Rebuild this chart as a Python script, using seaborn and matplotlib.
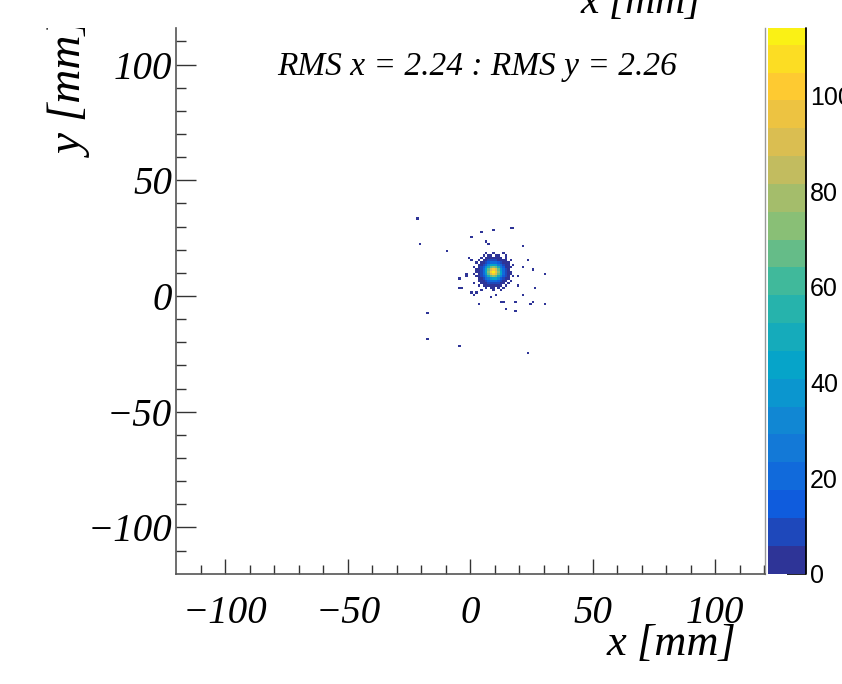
import numpy as np
import matplotlib
matplotlib.use("Agg")
import matplotlib.pyplot as plt
from matplotlib.colors import LinearSegmentedColormap, ListedColormap, BoundaryNorm
from matplotlib.cm import ScalarMappable
from matplotlib.transforms import Bbox, TransformedBbox
import seaborn as sns

# ---------------- data ----------------
# core of the beam spot: counts per 1 mm x 1 mm bin
core_x = np.arange(1, 18) + 0.5          # bin centres, mm (columns)
core_y = np.arange(18, 1, -1) + 0.5      # bin centres, mm (rows, top -> bottom)
core_counts = [
    [0, 0, 0, 0, 0, 1, 0, 0, 1, 0, 0, 0, 1, 0, 0, 0, 0],
    [0, 0, 0, 0, 1, 0, 1, 1, 0, 2, 1, 0, 0, 1, 0, 0, 0],
    [0, 0, 0, 1, 0, 2, 1, 3, 4, 2, 3, 1, 0, 2, 0, 0, 0],
    [0, 0, 1, 0, 2, 3, 7, 9, 8, 10, 5, 4, 2, 1, 0, 1, 0],
    [0, 1, 0, 2, 5, 10, 14, 21, 23, 19, 16, 8, 5, 2, 1, 0, 0],
    [0, 0, 1, 4, 10, 17, 31, 41, 44, 42, 29, 19, 8, 3, 1, 0, 1],
    [1, 0, 2, 6, 14, 31, 50, 66, 75, 68, 47, 29, 16, 5, 2, 1, 0],
    [0, 1, 3, 9, 21, 41, 66, 91, 101, 88, 69, 38, 19, 7, 3, 0, 0],
    [0, 1, 2, 10, 22, 46, 73, 99, 112, 98, 75, 44, 21, 9, 2, 1, 0],
    [1, 0, 4, 8, 19, 39, 68, 89, 99, 92, 65, 42, 20, 8, 3, 1, 0],
    [0, 1, 2, 6, 16, 28, 48, 68, 73, 66, 50, 31, 14, 6, 1, 0, 1],
    [0, 0, 1, 3, 9, 19, 29, 39, 46, 41, 31, 17, 10, 4, 2, 0, 0],
    [0, 0, 1, 2, 4, 8, 16, 19, 21, 21, 14, 10, 4, 1, 0, 1, 0],
    [1, 0, 0, 1, 2, 5, 6, 9, 8, 7, 6, 3, 2, 0, 1, 0, 0],
    [0, 0, 1, 0, 1, 1, 2, 2, 4, 3, 1, 2, 0, 1, 0, 0, 0],
    [0, 0, 0, 0, 0, 1, 0, 1, 1, 0, 1, 0, 1, 0, 0, 0, 0],
    [0, 0, 0, 1, 0, 0, 0, 0, 1, 0, 0, 1, 0, 0, 0, 0, 0],
]

# isolated hits around the spot (mm) and their counts
halo_x = [-21.5, -20.4, -10.0, -17.6, -17.6, -5.0, 23.2, 9.0, 17.4, 16.5, 4.1,
          0.6, 6.1, 7.4, 21.1, 30.5, 30.2, 25.6, 24.4, 21.9, 26.0, 25.1, 23.2,
          3.7, 14.5, 18.3, 18.5, 13.6, 12.8, 10.1, 8.7, 1.2, 0.3, 2.3, -4.7,
          -3.9, -1.5, -1.3, -4.6, 0.0, -0.1, 19.1, 21.5, 19.9]
halo_y = [33.8, 22.3, 19.7, -7.9, -18.4, -21.5, -24.9, 28.5, 29.8, 29.4, 27.3,
          25.1, 23.8, 22.8, 21.9, 9.4, -3.2, -2.7, -3.2, 0.4, 3.2, 11.5, 15.6,
          -3.6, -5.1, -6.2, -2.7, -2.2, -2.2, 0.0, -0.6, 0.0, 1.6, 1.6, 3.6,
          3.2, 8.3, 9.8, 7.3, 15.6, 16.3, 4.3, 12.4, 8.8]
halo_n = [1, 1, 1, 1, 1, 1, 1, 1, 1, 1, 1,
          1, 2, 1, 1, 2, 1, 1, 1, 1, 1, 1, 1,
          1, 1, 1, 1, 2, 1, 1, 1, 1, 1, 1, 1,
          1, 1, 1, 1, 1, 1, 1, 1, 1]

rms_x, rms_y = 2.24, 2.26
x_major = [-100, -50, 0, 50, 100]
y_major = [-100, -50, 0, 50, 100]
z_ticks = [0, 20, 40, 60, 80, 100]

# ---------------- build hit table ----------------
cx, cy = np.meshgrid(core_x, core_y)
cw = np.array(core_counts, dtype=float)
xs = np.concatenate([cx.ravel(), np.array(halo_x)])
ys = np.concatenate([cy.ravel(), np.array(halo_y)])
ws = np.concatenate([cw.ravel(), np.array(halo_n, dtype=float)])
keep = ws > 0
xs, ys, ws = xs[keep], ys[keep], ws[keep]

# ---------------- ROOT kBird palette, 20 contour levels ----------------
bird_r = [0.2082, 0.0592, 0.0780, 0.0232, 0.1802, 0.5301, 0.8186, 0.9956, 0.9764]
bird_g = [0.1664, 0.3599, 0.5041, 0.6419, 0.7178, 0.7492, 0.7328, 0.7862, 0.9832]
bird_b = [0.5293, 0.8684, 0.8385, 0.7914, 0.6425, 0.4662, 0.3499, 0.1968, 0.0539]
bird = LinearSegmentedColormap.from_list(
    "bird", list(zip(np.linspace(0, 1, 9), zip(bird_r, bird_g, bird_b))))
nlev = 20
band = 5.82
zmax = 114.1
levels_cmap = ListedColormap([bird((i + 0.5) / nlev) for i in range(nlev)])

# ---------------- figure ----------------
sns.set_style("white")
plt.rcParams["font.family"] = ["Liberation Serif", "DejaVu Serif"]
plt.rcParams["font.style"] = "italic"
plt.rcParams["axes.unicode_minus"] = True
plt.rcParams["text.color"] = "black"
plt.rcParams["xtick.labelcolor"] = "black"
plt.rcParams["ytick.labelcolor"] = "black"

fig = plt.figure(figsize=(8.42, 6.84), dpi=100)
ax = fig.add_axes([0.2094, 0.1613, 0.6992, 0.7978])

sns.histplot(x=xs, y=ys, weights=ws, binwidth=1,
             binrange=((-120, 120), (-120, 120)),
             cmap=levels_cmap, vmin=0, vmax=nlev * band,
             cbar=False, ax=ax)

ax.set_xlim(-120, 120.3)
ax.set_ylim(-120, 115.8)
ax.set_xlabel("")
ax.set_ylabel("")
ax.grid(False)

ax.set_xticks(x_major)
ax.set_xticks(np.arange(-110, 121, 10), minor=True)
ax.set_yticks(y_major)
ax.set_yticks(np.arange(-110, 116, 10), minor=True)
ax.tick_params(axis="x", which="major", direction="in", length=10.8, width=1,
               color="#333333", labelcolor="black", labelsize=28, pad=15,
               bottom=True, top=False)
ax.tick_params(axis="x", which="minor", direction="in", length=6.3, width=1,
               color="#333333", bottom=True, top=False)
ax.tick_params(axis="y", which="major", direction="in", length=14.4, width=1,
               color="#333333", labelcolor="black", labelsize=28, pad=3,
               left=True, right=False)
ax.tick_params(axis="y", which="minor", direction="in", length=7, width=1,
               color="#333333", left=True, right=False)

for s in ("left", "bottom"):
    ax.spines[s].set_color("#555555")
    ax.spines[s].set_linewidth(1.2)
ax.spines["top"].set_visible(False)
ax.spines["right"].set_color("#999999")
ax.spines["right"].set_linewidth(1.0)

# colour bar
cax = fig.add_axes([0.9121, 0.1613, 0.0451, 0.7978])
bounds = list(np.arange(nlev) * band) + [zmax]
norm = BoundaryNorm(bounds, nlev)
cb = fig.colorbar(ScalarMappable(norm=norm, cmap=levels_cmap), cax=cax,
                  spacing="proportional", ticks=z_ticks)
cb.outline.set_visible(False)
cax.minorticks_off()
cb.set_ticks(z_ticks)
cb.set_ticklabels([str(v) for v in z_ticks])
cax.tick_params(direction="in", length=13.7, width=1.2, color="black",
                labelcolor="black", labelsize=18, pad=3, right=True, left=False)
for t in cax.get_yticklabels():
    t.set_fontfamily("Liberation Sans")
    t.set_fontstyle("normal")
cax.plot([1, 1], [0, 1], transform=cax.transAxes, color="black", lw=1.3,
         clip_on=False)

# texts
fig.text(0.5662, 0.8904, f"RMS x = {rms_x:.2f} : RMS y = {rms_y:.2f}",
         fontsize=24, ha="center", va="baseline", color="black")
fig.text(0.7973, 0.0424, "x [mm]", fontsize=32, ha="center", va="baseline",
         color="black")
fig.text(0.7619, 0.981, "x [mm]", fontsize=30, ha="center", va="baseline",
         color="black")
yl = fig.text(0.0861, 0.7705, "y [mm]", fontsize=34, rotation=90,
              ha="center", va="bottom", color="black")
yl.set_clip_on(True)
yl.set_clip_box(TransformedBbox(Bbox([[0, 0], [1, 1 - 27.5 / 684]]),
                                fig.transFigure))

fig.savefig("out.png", dpi=100)
